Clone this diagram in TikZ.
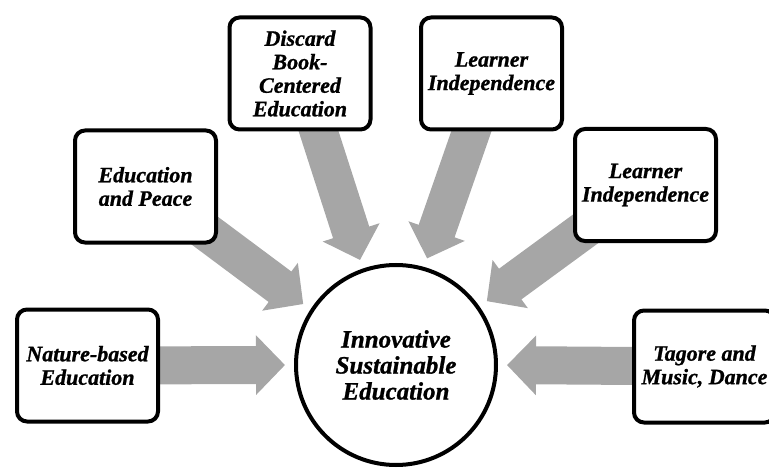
\documentclass[tikz,border=0pt]{standalone}
\usepackage{fontspec}
\setmainfont{Liberation Serif}[BoldItalicFeatures={FakeBold=1}]
\usetikzlibrary{arrows.meta,backgrounds}
\definecolor{arrowgray}{RGB}{166,166,166}
\begin{document}
\begin{tikzpicture}[x=1pt,y=-1pt,
  box/.style={draw=black, line width=4pt, fill=white, rounded corners=10pt,
    minimum width=141pt, minimum height=112pt, align=center, inner sep=2pt,
    font=\bfseries\itshape\fontsize{22}{23.5}\selectfont},
  hub/.style={circle, draw=black, line width=4pt, fill=white, minimum size=200pt,
    align=center, inner sep=0pt,
    font=\bfseries\itshape\fontsize{25}{26}\selectfont},
  feed/.style={line width=38pt, draw=arrowgray,
    -{Triangle[length=29pt,width=58pt]}, shorten >=9pt}]
\useasboundingbox (0,0) rectangle (769,468);
\node[box] (b1) at (87.5,365.5) {Nature-based\\Education};
\node[box] (b2) at (145.5,186.5) {Education\\and Peace};
\node[box] (b3) at (300,73.5) {Discard\\Book-\\Centered\\Education};
\node[box] (b4) at (491.5,73.5) {Learner\\Independence};
\node[box] (b5) at (645.5,185) {Learner\\Independence};
\node[box] (b6) at (704.5,366.5) {Tagore and\\Music, Dance};
\node[hub] (c) at (396,365) {Innovative\\Sustainable\\Education};
\begin{scope}[on background layer]
\draw[feed] (b1.center) -- (c.180);
\draw[feed] (b2.center) -- (c.147);
\draw[feed] (b3.center) -- (c.109);
\draw[feed] (b4.center) -- (c.74);
\draw[feed] (b5.center) -- (c.35);
\draw[feed] (b6.center) -- (c.0);
\end{scope}
\end{tikzpicture}
\end{document}
